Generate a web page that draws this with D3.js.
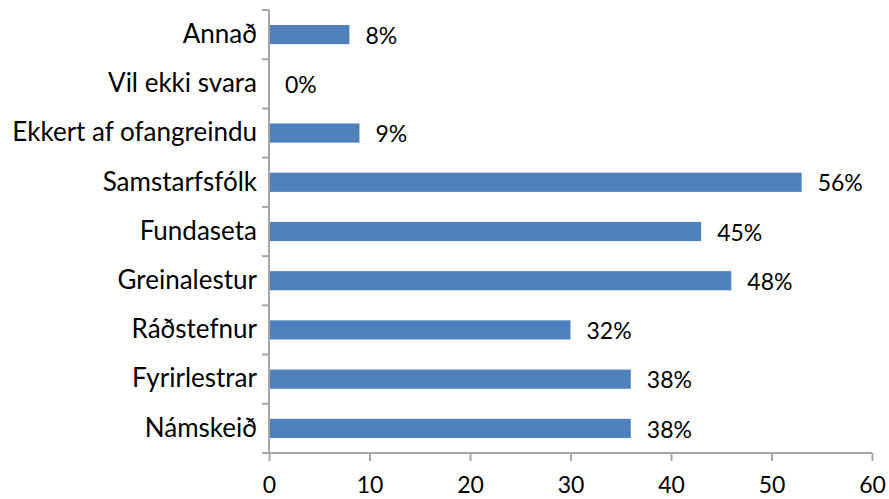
<!DOCTYPE html>
<html>
<head>
<meta charset="utf-8">
<script src="https://cdn.jsdelivr.net/npm/d3@7"></script>
<style>
  body { margin: 0; background: #fff; }
  svg { font-family: Lato, "Open Sans", sans-serif; }
</style>
</head>
<body>
<svg id="canvas"></svg>
<script>
// Data
let categories = ["Annað", "Vil ekki svara", "Ekkert af ofangreindu", "Samstarfsfólk",
  "Fundaseta", "Greinalestur", "Ráðstefnur", "Fyrirlestrar", "Námskeið"];
let values = [8, 0, 9, 53, 43, 46, 30, 36, 36];
let labels = ["8%", "0%", "9%", "56%", "45%", "48%", "32%", "38%", "38%"];
let xTicks = [0, 10, 20, 30, 40, 50, 60];

let width = 889;
let height = 499;
let plotLeft = 269, plotRight = 872, plotTop = 10, plotBottom = 453;

let canvas = d3.select("#canvas").attr("width", width).attr("height", height);

let xScale = d3.scaleLinear().domain([0, 60]).range([plotLeft, plotRight]);
let yScale = d3.scaleBand().domain(categories).range([plotTop, plotBottom]).paddingInner(0.61).paddingOuter(0.305);

// bars
canvas.selectAll("rect.bar")
  .data(values)
  .enter()
  .append("rect")
  .attr("class", "bar")
  .attr("x", xScale(0))
  .attr("y", (d, i) => yScale(categories[i]))
  .attr("width", (d) => xScale(d) - xScale(0))
  .attr("height", yScale.bandwidth())
  .attr("fill", "#4f81bd");

// value labels
canvas.selectAll("text.val")
  .data(values)
  .enter()
  .append("text")
  .attr("class", "val")
  .attr("x", (d) => xScale(d) + 16)
  .attr("y", (d, i) => yScale(categories[i]) + yScale.bandwidth() / 2)
  .attr("dy", "0.4em")
  .attr("font-size", 23)
  .attr("fill", "#000")
  .text((d, i) => labels[i]);

// axes
let xAxis = d3.axisBottom(xScale).tickValues(xTicks).tickSize(8).tickPadding(16).tickFormat(d3.format("d"));
let yBand = d3.scaleBand().domain(categories).range([plotTop, plotBottom]);
let yAxis = d3.axisLeft(yBand).tickSize(0).tickPadding(12);

let gx = canvas.append("g")
  .attr("transform", "translate(0," + plotBottom + ")")
  .call(xAxis);
gx.select(".domain").attr("d", "M" + plotLeft + ",0H" + plotRight);

let gy = canvas.append("g")
  .attr("transform", "translate(" + plotLeft + ",0)")
  .call(yAxis);

// category separator ticks on the y axis
gy.selectAll("line.sep")
  .data(d3.range(categories.length + 1))
  .enter()
  .append("line")
  .attr("class", "sep")
  .attr("x1", -7)
  .attr("x2", 0)
  .attr("y1", (d) => plotTop + d * yBand.step())
  .attr("y2", (d) => plotTop + d * yBand.step());
gy.select(".domain").attr("d", "M0," + plotTop + "V" + plotBottom);

canvas.selectAll(".domain, .tick line, line.sep")
  .attr("stroke", "#a6a6a6")
  .attr("stroke-width", 2);
canvas.selectAll(".tick text")
  .attr("font-family", "Lato, 'Open Sans', sans-serif")
  .attr("fill", "#000");
gx.selectAll(".tick text").attr("font-size", 23);
gy.selectAll(".tick text").attr("font-size", 26);
</script>
</body>
</html>
